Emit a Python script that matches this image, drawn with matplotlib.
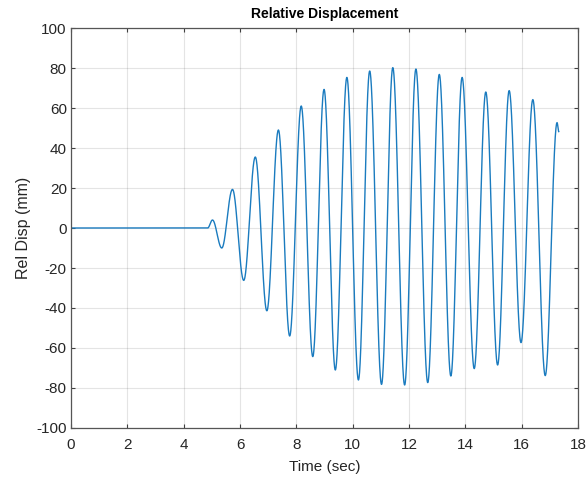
import numpy as np
import matplotlib
matplotlib.use("Agg")
import matplotlib.pyplot as plt

plt.rcParams['font.family'] = ['Liberation Sans', 'DejaVu Sans']
plt.rcParams['axes.unicode_minus'] = False

# Extrema (turning points) of the displacement record
ext_time = [0.0, 4.85, 5.02, 5.35, 5.73, 6.13, 6.54, 6.95, 7.36, 7.76, 8.17,
            8.58, 8.98, 9.38, 9.79, 10.20, 10.60, 11.02, 11.42, 11.84, 12.24,
            12.66, 13.07, 13.48, 13.88, 14.31, 14.72, 15.14, 15.55, 15.97,
            16.39, 16.83, 17.25, 17.31]
ext_disp = [0.0, 0.0, 4.0, -10.0, 19.3, -26.2, 35.5, -41.4, 49.0, -54.0, 61.0,
            -64.3, 69.3, -71.0, 75.3, -76.0, 78.5, -78.2, 80.2, -78.5, 79.5,
            -77.3, 76.8, -74.0, 75.3, -70.3, 68.0, -68.5, 68.7, -57.3,
            64.2, -73.8, 52.7, 48.2]

x_ticks = [0, 2, 4, 6, 8, 10, 12, 14, 16, 18]
y_ticks = [-100, -80, -60, -40, -20, 0, 20, 40, 60, 80, 100]

# Build a smooth trace: half-cosine shape between successive turning points
ts, ys = [], []
for i in range(len(ext_time) - 1):
    t0, t1 = ext_time[i], ext_time[i + 1]
    y0, y1 = ext_disp[i], ext_disp[i + 1]
    n = max(int((t1 - t0) * 200), 4)
    s = np.linspace(0, 1, n, endpoint=False)
    ts.append(t0 + (t1 - t0) * s)
    ys.append(y0 + (y1 - y0) * (1 - np.cos(np.pi * s)) / 2)
ts.append([ext_time[-1]])
ys.append([ext_disp[-1]])
t = np.concatenate(ts)
y = np.concatenate(ys)

fig = plt.figure(figsize=(5.87, 4.79), dpi=100)
ax = fig.add_axes([0.121, 0.1065, 0.864, 0.835])
ax.plot(t, y, color='#1a7bbf', linewidth=1.0)

ax.set_xlim(0, 18)
ax.set_ylim(-100, 100)
ax.set_xticks(x_ticks)
ax.set_yticks(y_ticks)
ax.grid(True, color='#262626', alpha=0.12, linewidth=0.8)
ax.set_axisbelow(True)
for sp in ax.spines.values():
    sp.set_color('#555555')
    sp.set_linewidth(0.9)
ax.tick_params(direction='in', length=3, width=0.8, colors='#404040',
               labelsize=11, top=True, right=True)
ax.tick_params(axis='x', pad=7)
ax.tick_params(axis='y', pad=3)
ax.tick_params(axis='both', labelcolor='#262626')
ax.set_xlabel('Time (sec)', fontsize=11, color='#262626', labelpad=6)
ax.set_ylabel('Rel Disp (mm)', fontsize=11.5, color='#262626', labelpad=4)
ax.set_title('Relative Displacement', fontsize=10, fontweight='bold',
             color='black', pad=7)

fig.savefig('out.png', dpi=100)
